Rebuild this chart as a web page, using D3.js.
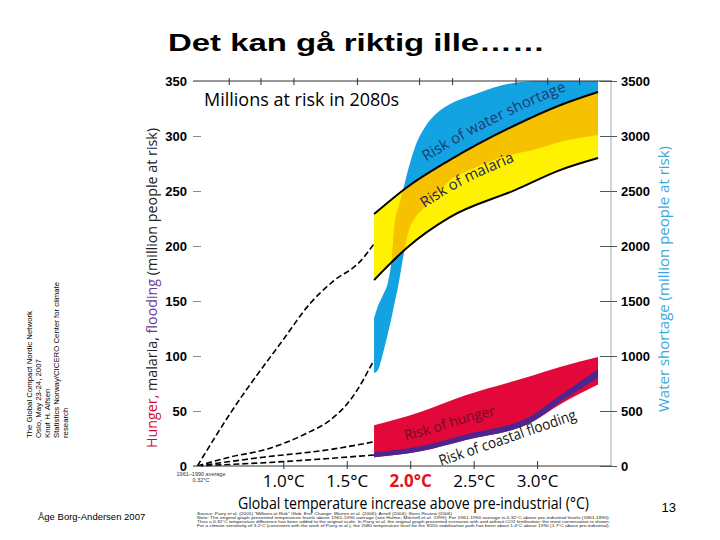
<!DOCTYPE html>
<html>
<head>
<meta charset="utf-8">
<script src="https://cdn.jsdelivr.net/npm/d3@7"></script>
<style>
  body { margin: 0; background: #fff; }
  svg { display: block; }
</style>
</head>
<body>
<div class="Graph"></div>
<script>
// temperature (°C above pre-industrial) and people at risk
var malT = [1.715, 1.97, 2.31, 2.83, 3.18, 3.48];
var malariaHi = [229, 253, 278, 310, 328, 340];
var malariaLo = [169, 198, 226, 251, 269, 280];

var watT = [1.715, 1.746, 1.786, 1.825, 1.849, 1.88, 1.904, 1.951, 1.99, 2.038, 2.117, 2.211, 2.314, 2.471, 2.731, 2.999, 3.18, 3.48];
var waterHi = [1345, 1455, 1555, 1673, 1827, 2236, 2336, 2545, 2720, 2900, 3082, 3209, 3291, 3364, 3464, 3500, 3500, 3500];
var waterLo = [845, 873, 1027, 1209, 1327, 1500, 1627, 1936, 2145, 2255, 2355, 2473, 2600, 2691, 2809, 2882, 2945, 3009];

var hunT = [1.715, 2.08, 2.43, 2.96, 3.18, 3.48];
var hungerHi = [37, 49, 64, 82, 90, 99];
var hungerLo = [8, 13.5, 23.5, 40, 56, 74];
var floodHi = [12.5, 18, 28.5, 46, 64, 88];
var floodLo = [8, 13.5, 23.5, 40, 58, 80];

// dashed lines from the 1961-1990 baseline to the start of the bands
var dashMalT = [0.323, 0.583, 1.0, 1.213, 1.394, 1.606, 1.715];
var dashMalV = [0, 48, 115, 148, 168, 186, 202];
var dashWatT = [0.323, 0.583, 0.843, 1.03, 1.189, 1.37, 1.528, 1.63, 1.685, 1.715];
var dashWatV = [0, 82, 145, 218, 300, 418, 600, 782, 900, 960];
var dashHunT = [0.323, 0.843, 1.37, 1.715];
var dashHunV = [0, 8, 15, 22];
var dashFloT = [0.323, 1.0, 1.715];
var dashFloV = [0, 4, 10];

var leftTicks = [0, 50, 100, 150, 200, 250, 300, 350];
var rightTicks = [0, 500, 1000, 1500, 2000, 2500, 3000, 3500];
var bottomTicks = [1.0, 1.5, 2.0, 2.5, 3.0];
var topTicks = [0.57, 0.82, 1.08, 1.58, 2.07, 2.33, 2.83, 3.08, 3.33];

var sideNotes = ["The Global Compact Nordic Network", "Oslo, May 23-24, 2007", "Knut H. Alfsen",
    "Statistics Norway/CICERO Center for climate", "research"];
var sourceNotes = [
    "Source: Parry et al. (2001) \"Millions at Risk\" Glob. Env. Change; Warren et al. (2006); Arnell (2004); Stern Review (2006)",
    "Note: The original graph presented temperature levels above 1961-1990 average (see Hulme, Mitchell et al. 1999); For 1961-1990 average is 0.32°C above pre-industrial levels (1861-1890).",
    "Thus a 0.32°C temperature difference has been added to the original scale. In Parry et al. the original graph presented scenarios with and without CO2 fertilisation; the most conservative is shown.",
    "For a climate sensitivity of 3.2°C (consistent with the work of Parry et al.), the 2080 temperature level for the S550 stabilisation path has been about 1.4°C above 1990 (1.7°C above pre-industrial)."
];

var W = 720, H = 540;
var svg = d3.select(".Graph").append("svg")
    .attr("width", W).attr("height", H)
    .style("font-family", "'Liberation Sans', Arial, sans-serif");

var x = d3.scaleLinear().domain([0.32, 3.59]).range([197, 612]);
var yL = d3.scaleLinear().domain([0, 350]).range([466, 81]);
var yR = d3.scaleLinear().domain([0, 3500]).range([466, 81]);

var curve = d3.curveMonotoneX;

function band(T, hi, lo, ys) {
    return d3.area().curve(curve)
        .x((d, i) => x(T[i]))
        .y0((d, i) => ys(lo[i]))
        .y1((d, i) => ys(hi[i]))(T);
}
function edge(T, v, ys) {
    return d3.line().curve(curve)
        .x((d, i) => x(T[i]))
        .y((d, i) => ys(v[i]))(T);
}
function mid(T, a, b, ys) {
    return d3.line().curve(curve)
        .x((d, i) => x(T[i]))
        .y((d, i) => ys((a[i] + b[i]) / 2))(T);
}

// ---------------- bands ----------------
var malPath = band(malT, malariaHi, malariaLo, yL);
var watPath = band(watT, waterHi, waterLo, yR);

var defs = svg.append("defs");
defs.append("clipPath").attr("id", "malClip")
    .append("path").attr("d", malPath);

svg.append("path").attr("d", watPath).attr("fill", "#14a3e2");
svg.append("path").attr("d", malPath).attr("fill", "#fff200");
svg.append("path").attr("d", watPath).attr("fill", "#f6c200")
    .attr("clip-path", "url(#malClip)");
svg.append("path").attr("d", edge(malT, malariaHi, yL)).attr("fill", "none")
    .attr("stroke", "#000").attr("stroke-width", 2);
svg.append("path").attr("d", edge(malT, malariaLo, yL)).attr("fill", "none")
    .attr("stroke", "#000").attr("stroke-width", 2);

svg.append("path").attr("d", band(hunT, hungerHi, hungerLo, yL)).attr("fill", "#e2083a");
svg.append("path").attr("d", band(hunT, floodHi, floodLo, yL)).attr("fill", "#4b2590");

// ---------------- dashed lines ----------------
[[dashMalT, dashMalV, yL], [dashWatT, dashWatV, yR], [dashHunT, dashHunV, yL], [dashFloT, dashFloV, yL]]
    .forEach(function (s) {
        svg.append("path").attr("d", edge(s[0], s[1], s[2]))
            .attr("fill", "none").attr("stroke", "#000")
            .attr("stroke-width", 1.6).attr("stroke-dasharray", "6,3");
    });

// ---------------- band labels ----------------
defs.append("path").attr("id", "pWat").attr("d", edge(malT, malariaHi, yL));
defs.append("path").attr("id", "pMal").attr("d", mid(malT, malariaHi, malariaLo, yL));
defs.append("path").attr("id", "pHun").attr("d", mid(hunT, hungerHi, hungerLo, yL));

function pathLabel(id, txt, off, dy, col, size) {
    svg.append("text")
        .style("font-family", "'Open Sans', 'Noto Sans', sans-serif")
        .style("font-size", size + "px").attr("fill", col)
        .append("textPath").attr("href", "#" + id).attr("startOffset", off)
        .append("tspan").attr("dy", dy).text(txt);
}
pathLabel("pWat", "Risk of water shortage", 72, -11, "#1c3a70", 15);
pathLabel("pMal", "Risk of malaria", 64, 3, "#222255", 15);
pathLabel("pHun", "Risk of hunger", 31, 5, "#6e0c20", 14);

svg.append("text").attr("transform", "translate(441,466) rotate(-19)")
    .style("font-family", "'Open Sans', 'Noto Sans', sans-serif").style("font-size", "15px")
    .attr("fill", "#111").attr("textLength", 144).attr("lengthAdjust", "spacingAndGlyphs")
    .text("Risk of coastal flooding");

// ---------------- axes ----------------
svg.append("line").attr("x1", 193).attr("x2", 612).attr("y1", 81).attr("y2", 81)
    .attr("stroke", "#333").attr("stroke-width", 1);
svg.append("line").attr("x1", 193).attr("x2", 612).attr("y1", 466).attr("y2", 466)
    .attr("stroke", "#333").attr("stroke-width", 1);
svg.append("line").attr("x1", 611).attr("x2", 611).attr("y1", 81).attr("y2", 466)
    .attr("stroke", "#aaa").attr("stroke-width", 1);

var gTop = svg.append("g").attr("transform", "translate(0,81)")
    .call(d3.axisBottom(x).tickValues(topTicks).tickSize(4).tickFormat(""));
gTop.select(".domain").remove();
gTop.selectAll("line").attr("y1", -3).attr("stroke", "#333");

var gLeft = svg.append("g").attr("transform", "translate(201,0)")
    .call(d3.axisLeft(yL).tickValues(leftTicks).tickSize(8).tickPadding(6));
gLeft.select(".domain").remove();
gLeft.selectAll("line").attr("stroke", "#888");
gLeft.selectAll("text").style("font-family", "'Liberation Sans', Arial, sans-serif")
    .style("font-size", "13px").style("font-weight", "bold").attr("fill", "#000");

var gRight = svg.append("g").attr("transform", "translate(600,0)")
    .call(d3.axisRight(yR).tickValues(rightTicks).tickSize(17).tickPadding(4)
        .tickFormat(d3.format("d")));
gRight.select(".domain").remove();
gRight.selectAll("line").attr("stroke", "#555");
gRight.selectAll("text").style("font-family", "'Liberation Sans', Arial, sans-serif")
    .style("font-size", "13px").style("font-weight", "bold").attr("fill", "#000");

var gBot = svg.append("g").attr("transform", "translate(0,466)")
    .call(d3.axisBottom(x).tickValues(bottomTicks).tickSize(3).tickPadding(6)
        .tickFormat(d => d.toFixed(1) + "°C"));
gBot.select(".domain").remove();
gBot.selectAll("line").attr("y1", -5).attr("stroke", "#333");
gBot.selectAll("text").style("font-family", "'Open Sans', 'Noto Sans', sans-serif")
    .style("font-size", "17px").attr("fill", "#000")
    .filter(d => d === 2.0).attr("fill", "#e3121b").style("font-weight", "bold");

// ---------------- titles ----------------
svg.append("text").attr("x", 168).attr("y", 51)
    .style("font-size", "23px").style("font-weight", "bold")
    .attr("textLength", 377).attr("lengthAdjust", "spacingAndGlyphs")
    .text("Det kan gå riktig ille……");

svg.append("text").attr("x", 204).attr("y", 106)
    .style("font-family", "'Open Sans', 'Noto Sans', sans-serif").style("font-size", "18px")
    .text("Millions at risk in 2080s");

var lt = svg.append("text").attr("transform", "translate(157,288) rotate(-90)")
    .attr("text-anchor", "middle")
    .style("font-family", "'Open Sans', 'Noto Sans', sans-serif").style("font-size", "14.3px");
lt.append("tspan").attr("fill", "#d4083a").text("Hunger, ");
lt.append("tspan").attr("fill", "#222").text("malaria, ");
lt.append("tspan").attr("fill", "#6a3a9a").text("flooding");
lt.append("tspan").attr("fill", "#222").text(" (million people at risk)");

svg.append("text").attr("transform", "translate(669,279) rotate(-90)")
    .attr("text-anchor", "middle").attr("fill", "#3aa8dc")
    .style("font-family", "'Open Sans', 'Noto Sans', sans-serif").style("font-size", "15px")
    .text("Water shortage (million people at risk)");

svg.append("text").attr("x", 238).attr("y", 509)
    .style("font-family", "'Open Sans', 'Noto Sans', sans-serif").style("font-size", "16.5px")
    .attr("textLength", 351).attr("lengthAdjust", "spacingAndGlyphs")
    .text("Global temperature increase above pre-industrial (°C)");

svg.append("text").attr("x", 201).attr("y", 476).attr("text-anchor", "middle")
    .style("font-size", "5.5px").attr("fill", "#333").text("1961–1990 average");
svg.append("text").attr("x", 201).attr("y", 482).attr("text-anchor", "middle")
    .style("font-size", "5.5px").attr("fill", "#333").text("0.32°C");

svg.selectAll(".src").data(sourceNotes).enter().append("text")
    .attr("class", "src").attr("x", 197).attr("y", (d, i) => 515 + i * 4)
    .style("font-size", "3.6px").attr("fill", "#222")
    .attr("textLength", (d, i) => i === 0 ? 255 : 413).attr("lengthAdjust", "spacingAndGlyphs")
    .text(d => d);

svg.append("text").attr("x", 676).attr("y", 512).attr("text-anchor", "end")
    .style("font-size", "13px").text("13");

svg.append("text").attr("x", 38).attr("y", 520)
    .style("font-size", "9.5px").text("Åge Borg-Andersen 2007");

svg.selectAll(".side").data(sideNotes).enter().append("text")
    .attr("class", "side")
    .attr("transform", (d, i) => "translate(" + (32 + i * 9) + ",438) rotate(-90)")
    .style("font-size", "7.8px").text(d => d);
</script>
</body>
</html>
